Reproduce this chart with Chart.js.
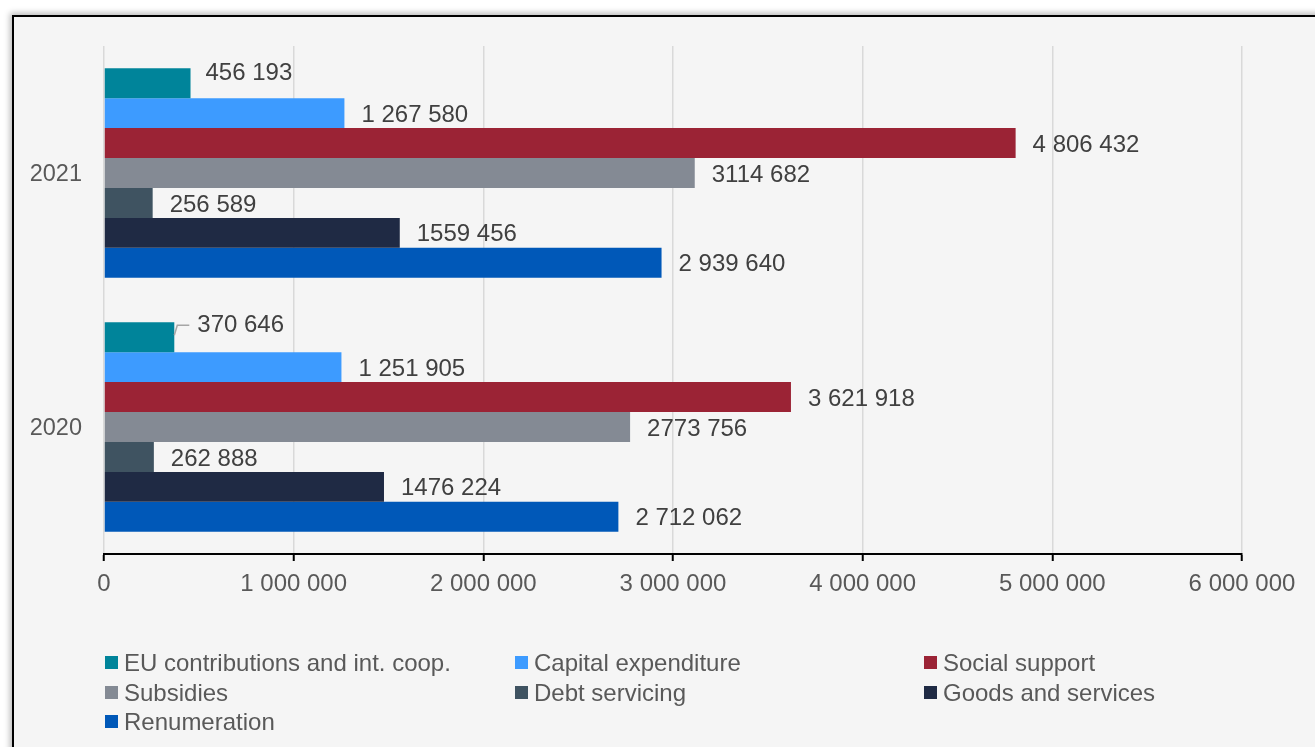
<!DOCTYPE html>
<html>
<head>
<meta charset="utf-8">
<script src="https://cdn.jsdelivr.net/npm/chart.js@4.4.1/dist/chart.umd.min.js"></script>
<style>
  html, body { margin: 0; padding: 0; background: #ffffff; overflow: hidden; }
  body { width: 1315px; height: 747px; position: relative; font-family: "Liberation Sans", Arial, sans-serif; }
  #frame { position: absolute; left: 12px; top: 15px; width: 1320px; height: 750px;
           background: #f5f5f5; border: 2.5px solid #000; box-sizing: border-box;
           box-shadow: 0 0 6px 2px rgba(0,0,0,0.28); }
  #wrap { position: absolute; left: 0; top: 0; width: 1315px; height: 747px; }
  #legend { position: absolute; left: 105px; top: 648px; display: grid;
            grid-template-columns: 410px 409px auto; font-size: 24px; line-height: 29.5px; color: #595959; }
  .li { display: flex; align-items: center; white-space: nowrap; }
  .sw { width: 13px; height: 13px; margin-right: 6px; flex: none; }
</style>
</head>
<body>
<div id="frame"></div>
<div id="wrap"><canvas id="c"></canvas></div>
<div id="legend"></div>
<script>
// ---- data ----
const categories = ['2021', '2020'];
const seriesNames = ['EU contributions and int. coop.', 'Capital expenditure', 'Social support',
                     'Subsidies', 'Debt servicing', 'Goods and services', 'Renumeration'];
const seriesColors = ['#00849A', '#3D9BFF', '#9B2335', '#848A94', '#3F5361', '#1F2A44', '#0058B8'];
const euValues        = [456193, 370646];
const capitalValues   = [1267580, 1251905];
const socialValues    = [4806432, 3621918];
const subsidyValues   = [3114682, 2773756];
const debtValues      = [256589, 262888];
const goodsValues     = [1559456, 1476224];
const renumValues     = [2939640, 2712062];
const euLabels        = ['456 193', '370 646'];
const capitalLabels   = ['1 267 580', '1 251 905'];
const socialLabels    = ['4 806 432', '3 621 918'];
const subsidyLabels   = ['3114 682', '2773 756'];
const debtLabels      = ['256 589', '262 888'];
const goodsLabels     = ['1559 456', '1476 224'];
const renumLabels     = ['2 939 640', '2 712 062'];
const xTickValues     = [0, 1000000, 2000000, 3000000, 4000000, 5000000, 6000000];
const xTickLabels     = ['0', '1 000 000', '2 000 000', '3 000 000', '4 000 000', '5 000 000', '6 000 000'];

const allValues = [euValues, capitalValues, socialValues, subsidyValues, debtValues, goodsValues, renumValues];
const allLabels = [euLabels, capitalLabels, socialLabels, subsidyLabels, debtLabels, goodsLabels, renumLabels];

const FONT = '"Liberation Sans", Arial, sans-serif';

const datasets = seriesNames.map((name, i) => ({
  label: name,
  data: allValues[i],
  valueLabels: allLabels[i],
  backgroundColor: seriesColors[i],
  borderWidth: 0,
  barPercentage: 1.0,
  categoryPercentage: 0.825
}));

const valueLabelPlugin = {
  id: 'valueLabels',
  afterDatasetsDraw(chart, args, opts) {
    const ctx = chart.ctx;
    ctx.save();
    ctx.font = '24px ' + FONT;
    ctx.fillStyle = '#404040';
    ctx.textBaseline = 'middle';
    ctx.textAlign = 'left';
    chart.data.datasets.forEach((ds, di) => {
      const meta = chart.getDatasetMeta(di);
      meta.data.forEach((bar, idx) => {
        const txt = ds.valueLabels[idx];
        const off = (opts.offsets || []).find(l => l.dataset === di && l.index === idx);
        if (off) {
          const ey = bar.y + off.dy;
          if (off.leader) {
            ctx.save();
            ctx.strokeStyle = '#a6a6a6';
            ctx.lineWidth = 1.5;
            ctx.beginPath();
            ctx.moveTo(bar.x, bar.y - 2);
            ctx.lineTo(bar.x + 3, ey);
            ctx.lineTo(bar.x + off.dx - 8, ey);
            ctx.stroke();
            ctx.restore();
          }
          ctx.fillText(txt, bar.x + off.dx, ey);
        } else {
          ctx.fillText(txt, bar.x + opts.gap, bar.y + 2);
        }
      });
    });
    ctx.restore();
  }
};

const chart = new Chart(document.getElementById('c'), {
  type: 'bar',
  data: { labels: categories, datasets },
  options: {
    indexAxis: 'y',
    responsive: true,
    maintainAspectRatio: false,
    animation: false,
    layout: { padding: { left: 24, top: 46, right: 73, bottom: 143 } },
    plugins: {
      legend: { display: false },
      tooltip: { enabled: false },
      valueLabels: {
        gap: 17,
        offsets: [
          { dataset: 0, index: 0, dx: 15, dy: -10, leader: false },
          { dataset: 0, index: 1, dx: 23, dy: -12, leader: true }
        ]
      }
    },
    scales: {
      x: {
        min: 0, max: 6000000,
        afterBuildTicks(scale) { scale.ticks = xTickValues.map(v => ({ value: v })); },
        afterFit(scale) { scale.height = 50; },
        border: { display: true, color: '#000', width: 2 },
        grid: { color: '#d9d9d9', lineWidth: 1.5, tickColor: '#000', tickLength: 7, tickWidth: 2 },
        ticks: {
          padding: 9,
          color: '#595959',
          font: { family: FONT, size: 24 },
          callback(value, index) { return xTickLabels[index]; }
        }
      },
      y: {
        afterFit(scale) { scale.width = 80; },
        border: { display: false },
        grid: { display: false, drawTicks: false },
        ticks: { padding: 22, labelOffset: 2, color: '#595959', font: { family: FONT, size: 23.5 } }
      }
    }
  },
  plugins: [valueLabelPlugin]
});

// HTML legend
const legend = document.getElementById('legend');
chart.data.datasets.forEach(ds => {
  const item = document.createElement('div');
  item.className = 'li';
  const sw = document.createElement('span');
  sw.className = 'sw';
  sw.style.background = ds.backgroundColor;
  const t = document.createElement('span');
  t.textContent = ds.label;
  item.appendChild(sw); item.appendChild(t);
  legend.appendChild(item);
});
</script>
</body>
</html>
